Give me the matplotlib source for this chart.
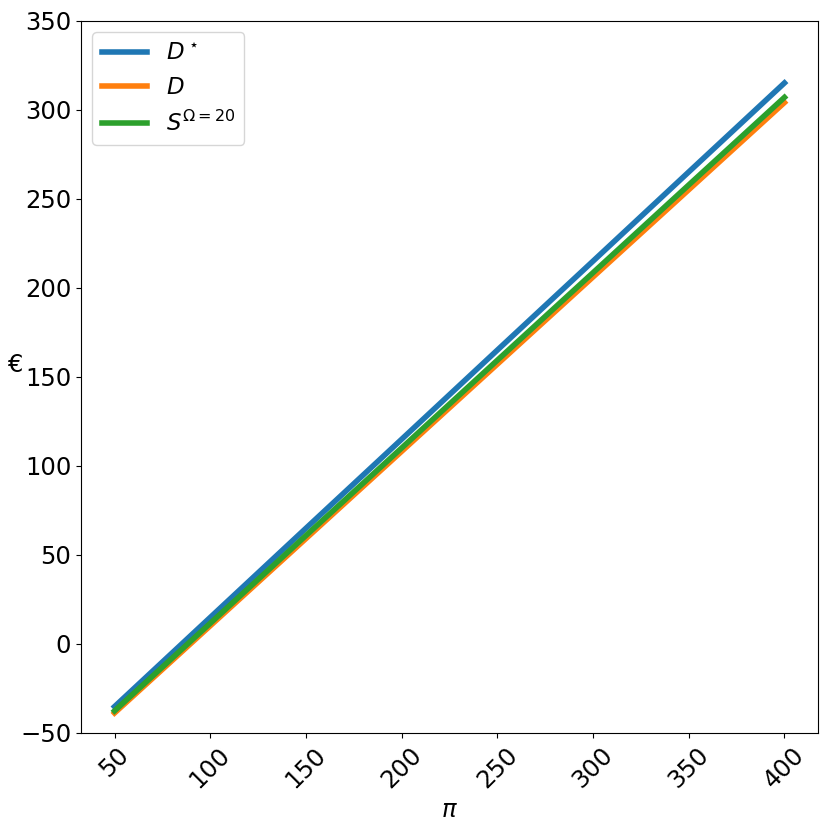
import matplotlib
matplotlib.use("Agg")
import matplotlib.pyplot as plt

pi_vals = [50, 100, 150, 200, 250, 300, 350, 400]
d_star = [-35.2, 14.9, 65.0, 115.0, 165.1, 215.1, 265.2, 315.2]
d_vals = [-38.8, 10.2, 59.2, 108.2, 157.2, 206.2, 255.2, 304.2]
s_vals = [-37.6, 11.6, 60.9, 110.1, 159.4, 208.6, 257.9, 307.1]
labels = [r"$D^\star$", r"$D$", r"$S^{\Omega=20}$"]

plt.rcParams["font.size"] = 17.5
fig = plt.figure(figsize=(8.3, 8.3), dpi=100)
ax = fig.add_axes([0.0976, 0.1169, 0.8879, 0.8578])
ax.plot(pi_vals, d_star, color="#1f77b4", lw=4, label=labels[0])
ax.plot(pi_vals, d_vals, color="#ff7f0e", lw=4, label=labels[1])
ax.plot(pi_vals, s_vals, color="#2ca02c", lw=4, label=labels[2])
ax.set_ylim(-50, 350)
ax.set_xticks([50, 100, 150, 200, 250, 300, 350, 400])
plt.setp(ax.get_xticklabels(), rotation=45)
ax.set_xlabel(r"$\pi$")
ax.set_ylabel("€", rotation=0)
ax.legend(loc="upper left", fontsize=16.5)
fig.savefig("out.png", dpi=100)
